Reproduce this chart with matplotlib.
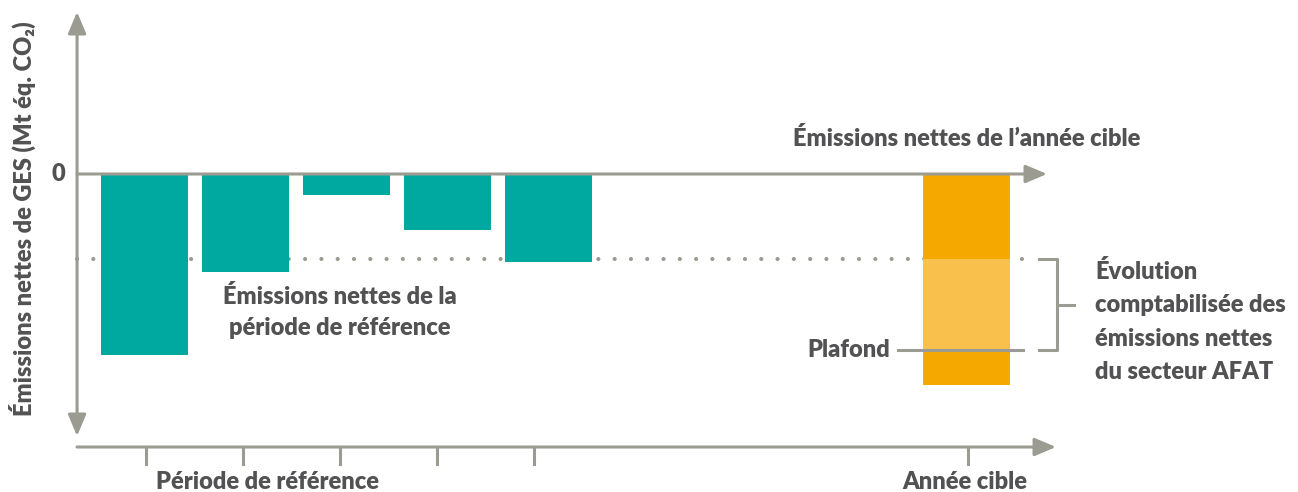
import matplotlib
matplotlib.use("Agg")
import matplotlib.pyplot as plt

plt.rcParams['font.family'] = ['Lato', 'DejaVu Sans']
plt.rcParams['font.weight'] = 'heavy'

# net emissions (Mt éq. CO2)
ref_emissions = [-18.1, -9.8, -2.1, -5.6, -8.8]   # reference period years
ref_level = -8.5        # reference-period net emissions (dotted line)
plafond = -17.6         # cap
target_emission = -21.1  # target-year net emissions

teal = '#00A99F'
orange = '#F5A800'
light_orange = '#F9C04C'
grey = '#9B9B92'
txt = '#525254'
fs = 17

fig = plt.figure(figsize=(12.98, 4.92), dpi=100)
ax = fig.add_axes([0, 0, 1, 1])
ax.set_xlim(-1.431, 11.421)
ax.set_ylim(-31.8, 17.4)
ax.axis('off')

x_axis = -0.668
target_x = 8.14
w = 0.86

# reference bars
xs = list(range(len(ref_emissions)))
ax.bar(xs, ref_emissions, width=w, color=teal, zorder=3)

# target-year bar, split at reference level and cap
ax.bar(target_x, ref_level, width=w, color=orange, zorder=3)
ax.bar(target_x, plafond - ref_level, bottom=ref_level, width=w, color=light_orange, zorder=3)
ax.bar(target_x, target_emission - plafond, bottom=plafond, width=w, color=orange, zorder=3)

# dotted reference level
ax.plot([x_axis, 8.75], [ref_level, ref_level], color=grey, lw=3,
        linestyle=(0, (0.01, 3.9)), dash_capstyle='round', zorder=2)

# axes drawn as arrows
def arrow(x0, y0, x1, y1, style='-|>'):
    ax.annotate('', xy=(x1, y1), xytext=(x0, y0),
                arrowprops=dict(arrowstyle=style + ',head_length=1.3,head_width=0.55',
                                mutation_scale=10, color=grey, lw=2.2,
                                shrinkA=0, shrinkB=0), zorder=4)

arrow(x_axis, -26.2, x_axis, 16.2, style='<|-|>')
arrow(x_axis, 0, 8.936, 0)
arrow(x_axis, -27.3, 9.025, -27.3)

# ticks on the time axis
for i in range(len(ref_emissions)):
    tx = 0.015 + i * 0.96
    ax.plot([tx, tx], [-27.3, -29.0], color=grey, lw=2.2, zorder=4)
ax.plot([8.15, 8.15], [-27.3, -29.0], color=grey, lw=2.2, zorder=4)

# bracket + cap line
ax.plot([8.857, 9.035, 9.035, 8.857], [ref_level, ref_level, plafond, plafond],
        color=grey, lw=2.2, zorder=4)
ax.plot([9.035, 9.203], [(ref_level + plafond) / 2] * 2, color=grey, lw=2.2, zorder=4)
ax.plot([7.46, 8.697], [plafond, plafond], color=grey, lw=2.2, zorder=5)

# texts
ax.text(-0.851, 0, '0', ha='center', va='center', fontsize=fs, color=txt)
ax.text(-1.213, -4.5, 'Émissions nettes de GES (Mt éq. CO₂)', rotation=90,
        ha='center', va='center', fontsize=fs, color=txt)
ax.text(6.42, 3.6, 'Émissions nettes de l’année cible', ha='left', va='center',
        fontsize=fs, color=txt)
ax.text(1.936, -13.8, 'Émissions nettes de la\npériode de référence', ha='center',
        va='center', fontsize=fs, color=txt, linespacing=1.5)
ax.text(7.381, plafond, 'Plafond', ha='right', va='center', fontsize=fs, color=txt)
ax.text(9.411, -14.75, 'Évolution\ncomptabilisée des\némissions nettes\ndu secteur AFAT',
        ha='left', va='center', fontsize=fs, color=txt, linespacing=1.64)
ax.text(1.218, -30.8, 'Période de référence', ha='center', va='center', fontsize=fs, color=txt)
ax.text(8.124, -30.8, 'Année cible', ha='center', va='center', fontsize=fs, color=txt)

fig.savefig('out.png', dpi=100)
